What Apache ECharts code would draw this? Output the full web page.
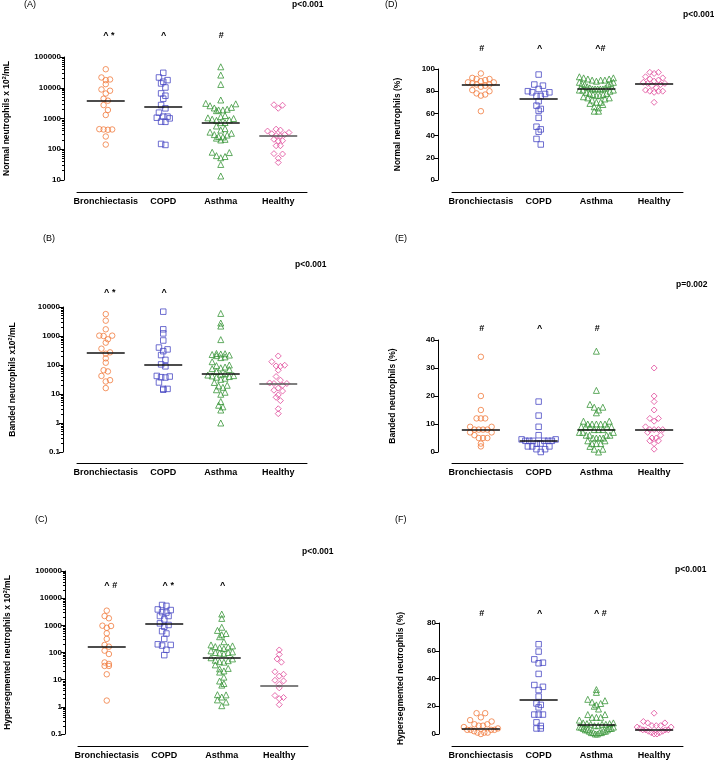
<!DOCTYPE html>
<html>
<head>
<meta charset="utf-8">
<script src="https://cdn.jsdelivr.net/npm/echarts@6/dist/echarts.min.js"></script>
<style>
html, body { margin: 0; padding: 0; background: #fff; }
#main { width: 714px; height: 762px; }
</style>
</head>
<body>
<div id="main"></div>
<script>
var groups = ['Bronchiectasis', 'COPD', 'Asthma', 'Healthy'];

// (A) normal neutrophils x 10^2/mL
var aBronch = [40000, 21600, 18600, 17700, 13100, 8800, 8000, 6500, 4400, 3800, 2740, 1890, 1300, 450, 440, 440, 430, 260, 142];
var aCopd = [30600, 21600, 17700, 15700, 13800, 10200, 6550, 5500, 4400, 2740, 2140, 1550, 1150, 1150, 1060, 1010, 790, 780, 149, 138];
var aAsthma = [48000, 25800, 12800, 4000, 3100, 3000, 2600, 2300, 2200, 2000, 1900, 1900, 1800, 1250, 1150, 1050, 1000, 950, 900, 870, 740, 730, 570, 470, 420, 360, 330, 300, 290, 260, 250, 230, 210, 200, 80, 78, 62, 58, 53, 32, 13.5];
var aHealthy = [2800, 2700, 2150, 450, 420, 390, 350, 320, 300, 280, 270, 210, 190, 185, 130, 130, 72, 70, 51, 37];
var aMedian = [3800, 2420, 740, 275];
var aMarks = ['^ *', '^', '#', ''];

// (B) banded neutrophils x10^2/mL
var bBronch = [5700, 3380, 1700, 1030, 1030, 1000, 770, 590, 365, 273, 245, 170, 120, 66, 60, 42, 30, 27, 16];
var bCopd = [6900, 1700, 1230, 700, 400, 345, 300, 220, 150, 105, 90, 42, 40, 38, 37, 25, 15, 14, 15];
var bAsthma = [6000, 2800, 2200, 750, 250, 245, 240, 230, 220, 210, 190, 180, 130, 100, 95, 85, 80, 75, 70, 60, 50, 48, 45, 43, 42, 40, 38, 35, 32, 25, 20, 19, 17, 14, 11.5, 9.8, 5.5, 4.1, 3.6, 2.8, 1.0];
var bHealthy = [205, 130, 98, 93, 90, 66, 40, 30, 24, 23, 23, 20, 16, 13.5, 12.6, 9.3, 7.7, 5.9, 3.1, 2.1];
var bMedian = [274, 103, 50, 22];
var bMarks = ['^ *', '^', '', ''];

// (C) hypersegmented neutrophils x 10^2/mL
var cBronch = [3470, 2200, 1820, 970, 945, 810, 510, 316, 190, 164, 117, 88, 43, 38, 32, 32, 15.8, 1.7];
var cCopd = [5600, 5200, 3850, 3650, 3050, 2950, 2200, 2200, 1650, 1180, 1030, 890, 610, 500, 315, 200, 190, 180, 126, 80];
var cAsthma = [2600, 1800, 850, 650, 500, 450, 380, 250, 190, 175, 165, 160, 150, 140, 115, 105, 100, 100, 95, 90, 64, 58, 52, 50, 46, 44, 35, 26, 25, 21, 19, 12.4, 8.9, 7.2, 6.3, 2.8, 2.75, 2.3, 1.8, 1.5, 1.1];
var cHealthy = [124, 85, 58, 44, 19.5, 15.8, 13.5, 9.5, 9.0, 6.7, 5.0, 2.6, 2.2, 2.0, 1.2];
var cMedian = [169, 1110, 62, 6];
var cMarks = ['^ #', '^ *', '^', ''];

// (D) normal neutrophils %
var dBronch = [96, 92, 91, 91, 90, 89, 88, 88, 87, 86, 86, 85, 84, 81, 80, 78, 77, 76, 62];
var dCopd = [95, 86, 85, 82, 80, 79, 79, 77.5, 75.7, 75.7, 71, 67, 64, 62.5, 56, 48, 45.6, 43.5, 37, 32];
var dAsthma = [93, 92, 92, 91, 91, 90, 90, 90, 89, 88, 88, 87, 87, 86, 86, 84, 83, 83, 82, 82, 82, 82, 82, 81, 81, 81, 80, 79, 78, 78, 77, 77, 76, 76, 75, 74, 74, 73, 72, 70, 70, 69, 68, 66, 65, 62, 62];
var dHealthy = [97, 97, 96, 93, 92, 91, 90, 89, 88, 87, 87, 86, 85, 83, 81, 80, 80, 80, 79, 70];
var dMedian = [86, 73, 82, 87];
var dMarks = ['#', '^', '^#', ''];

// (E) banded neutrophils %
var eBronch = [34, 20, 15, 12, 12, 12, 9, 9, 8, 8, 8, 8, 7, 7, 6, 5, 5, 5, 3, 2];
var eCopd = [18, 13, 9, 6, 4.5, 4.5, 4, 4, 4, 4, 4, 4, 3, 3, 2, 2, 2, 1, 1, 0];
var eAsthma = [36, 22, 17, 16, 16, 15, 14, 11, 11, 10, 10, 10, 10, 10, 9, 9, 9, 9, 9, 8, 8, 8, 7, 7, 7, 6, 6, 6, 6, 5, 5, 5, 5, 4, 4, 3, 3, 3, 2, 1, 1, 0];
var eHealthy = [30, 20, 18, 15, 12, 12, 11, 9, 8, 8, 8, 8, 7, 6, 5, 5, 4, 4, 3, 1];
var eMedian = [8, 3.9, 8, 8];
var eMarks = ['#', '^', '#', ''];

// (F) hypersegmented neutrophils %
var fBronch = [15, 15, 12, 10, 9, 7, 7, 6, 6, 5, 4, 3, 3, 3, 3, 2, 1, 1, 1, 0];
var fCopd = [64.7, 59.4, 53.8, 51.4, 51, 43.3, 35.3, 34, 31.7, 27, 22, 21, 19.2, 14, 14, 14, 8.4, 5.8, 4, 4];
var fAsthma = [32, 30, 25, 24, 23, 22, 21, 20, 18, 14, 14, 12, 12, 12, 10, 8, 8, 7.5, 7.5, 7, 7, 7, 6, 6, 5, 5, 5, 4, 4, 4, 3, 3, 3, 2, 2, 2, 1, 1, 1, 1, 0, 0];
var fHealthy = [15, 9, 8, 8, 6, 6, 6, 5, 5, 4, 3, 3, 3, 3, 2, 2, 1, 1, 0, 0];
var fMedian = [4, 24.5, 7, 3];
var fMarks = ['#', '^', '^ #', ''];

var colors = ['#f17c3e', '#4a4ac4', '#3a963a', '#e0489a'];
var symbols = ['circle', 'rect', 'triangle', 'diamond'];
var sizes = [5.5, 5.5, 6, 6];
var FONT = '"Liberation Sans", Arial, sans-serif';

var panels = [
  { label: '(A)', p: 'p<0.001', data: [aBronch, aCopd, aAsthma, aHealthy], med: aMedian, marks: aMarks,
    name: 'Normal neutrophils x 10{s|2}/mL', log: true, min: 10, max: 100000,
    left: 76, top: 57, width: 231, height: 123, yOff: 13, xOff: 12, gap: 52,
    lab: [24, 5], pPos: [292, 5], markY: 36 },
  { label: '(B)', p: 'p<0.001', data: [bBronch, bCopd, bAsthma, bHealthy], med: bMedian, marks: bMarks,
    name: 'Banded neutrophils x10{s|2}/mL', log: true, min: 0.1, max: 10000,
    left: 77, top: 307, width: 230, height: 145, yOff: 14, xOff: 11, gap: 45,
    lab: [43, 239], pPos: [295, 265], markY: 293 },
  { label: '(C)', p: 'p<0.001', data: [cBronch, cCopd, cAsthma, cHealthy], med: cMedian, marks: cMarks,
    name: 'Hypersegmented neutrophils x 10{s|2}/mL', log: true, min: 0.1, max: 100000,
    left: 78, top: 571, width: 230, height: 163, yOff: 13, xOff: 12, gap: 52,
    lab: [35, 520], pPos: [302, 552], markY: 586 },
  { label: '(D)', p: 'p<0.001', data: [dBronch, dCopd, dAsthma, dHealthy], med: dMedian, marks: dMarks,
    name: 'Normal neutrophils (%)', log: false, min: 0, max: 100, interval: 20,
    left: 452, top: 69, width: 231, height: 111, yOff: 14, xOff: 12, gap: 36,
    lab: [385, 5], pPos: [683, 15], markY: 49 },
  { label: '(E)', p: 'p=0.002', data: [eBronch, eCopd, eAsthma, eHealthy], med: eMedian, marks: eMarks,
    name: 'Banded neutrophils (%)', log: false, min: 0, max: 40, interval: 10,
    left: 452, top: 340, width: 231, height: 112, yOff: 14, xOff: 11, gap: 41,
    lab: [395, 239], pPos: [676, 285], markY: 329 },
  { label: '(F)', p: 'p<0.001', data: [fBronch, fCopd, fAsthma, fHealthy], med: fMedian, marks: fMarks,
    name: 'Hypersegmented neutrophils (%)', log: false, min: 0, max: 80, interval: 20,
    left: 452, top: 623, width: 231, height: 111, yOff: 13, xOff: 12, gap: 34,
    lab: [395, 520], pPos: [675, 570], markY: 614 }
];

/** Prism-like scatter: bin points by pixel height, spread each bin into a centred row */
function swarm(values, toPx, rowH, step, maxW) {
  var bins = {};
  values.forEach(function (v, i) {
    var b = Math.floor(toPx(v) / rowH);
    (bins[b] = bins[b] || []).push(i);
  });
  var offs = [];
  Object.keys(bins).forEach(function (b) {
    var idx = bins[b];
    var k = idx.length;
    var s = k > 1 ? Math.min(step, maxW / (k - 1)) : 0;
    var slots = [];
    for (var j = 0; j < k; j++) slots.push((j - (k - 1) / 2) * s);
    // outer slots get the higher values, so rows curve like in the original
    slots.sort(function (s1, s2) { return Math.abs(s2) - Math.abs(s1) || s1 - s2; });
    idx.sort(function (a, c) { return values[c] - values[a]; });
    idx.forEach(function (i, j) { offs[i] = slots[j]; });
  });
  return offs;
}

function decades(min, max) {
  var out = [];
  for (var e = Math.round(Math.log10(min)); e <= Math.round(Math.log10(max)); e++) out.push(Math.pow(10, e));
  return out;
}
function minorTicks(min, max) {
  var out = [];
  decades(min, max).forEach(function (d) {
    for (var k = 2; k <= 9; k++) if (d * k < max) out.push(d * k);
  });
  return out;
}
function fmt(v) { return String(+(+v).toPrecision(6)); }

var grid = [], xAxis = [], yAxis = [], series = [], graphic = [];

panels.forEach(function (pn, p) {
  grid.push({ left: pn.left, top: pn.top, width: pn.width, height: pn.height });
  xAxis.push({
    type: 'category', gridIndex: p, data: groups, offset: pn.xOff, position: 'bottom',
    axisLine: { onZero: false, lineStyle: { color: '#000', width: 1 } },
    axisTick: { alignWithLabel: true, length: 3, lineStyle: { color: '#000' } },
    axisLabel: { interval: 0, margin: 5, color: '#000', fontFamily: FONT, fontWeight: 'bold', fontSize: 9 },
    splitLine: { show: false }
  });
  var valIdx = xAxis.length;
  xAxis.push({ type: 'value', gridIndex: p, min: -0.5, max: 3.5, show: false });

  var yIdx = yAxis.length;
  var yMain = {
    type: pn.log ? 'log' : 'value', gridIndex: p, min: pn.min, max: pn.max, offset: pn.yOff, position: 'left',
    name: pn.name, nameLocation: 'middle', nameGap: pn.gap, nameRotate: 90,
    nameTextStyle: {
      color: '#000', fontFamily: FONT, fontWeight: 'bold', fontSize: 8.5,
      rich: { s: { fontSize: 5.5, fontWeight: 'bold', fontFamily: FONT, color: '#000', verticalAlign: 'top', padding: [0, 0, 5, 0] } }
    },
    axisLine: { show: true, onZero: false, lineStyle: { color: '#000', width: 1 } },
    axisTick: { show: true, length: 4, lineStyle: { color: '#000' } },
    axisLabel: { color: '#000', fontFamily: FONT, fontWeight: 'bold', fontSize: 8, margin: 3, formatter: fmt },
    splitLine: { show: false }
  };
  if (pn.log) {
    yMain.logBase = 10;
    yMain.axisTick.customValues = decades(pn.min, pn.max);
    yMain.axisLabel.customValues = decades(pn.min, pn.max);
  } else {
    yMain.interval = pn.interval;
  }
  yAxis.push(yMain);
  if (pn.log) {
    yAxis.push({
      type: 'log', logBase: 10, gridIndex: p, min: pn.min, max: pn.max, offset: pn.yOff, position: 'left',
      axisLine: { show: false, onZero: false }, axisLabel: { show: false }, splitLine: { show: false },
      axisTick: { show: true, length: 2, customValues: minorTicks(pn.min, pn.max), lineStyle: { color: '#000' } }
    });
  }

  var lmin = pn.log ? Math.log10(pn.min) : pn.min;
  var lmax = pn.log ? Math.log10(pn.max) : pn.max;
  var toPx = function (v) {
    var t = pn.log ? Math.log10(v) : v;
    return (t - lmin) / (lmax - lmin) * pn.height;
  };
  var unit = pn.width / 4;

  pn.data.forEach(function (vals, g) {
    var offs = swarm(vals, toPx, 7, 4.3, 34);
    var pts = vals.map(function (v, i) { return [g + offs[i] / unit, v]; });
    var medColor = (pn.log && g === 3) ? '#555' : '#111';
    series.push({
      type: 'scatter', xAxisIndex: valIdx, yAxisIndex: yIdx,
      symbol: symbols[g], symbolSize: sizes[g], data: pts, silent: true,
      itemStyle: { color: 'rgba(255,255,255,0)', borderColor: colors[g], borderWidth: 1 },
      markLine: {
        silent: true, symbol: ['none', 'none'], label: { show: false }, animation: false,
        lineStyle: { color: medColor, width: 1.6, type: 'solid' },
        data: [[{ coord: [g - 0.33, pn.med[g]] }, { coord: [g + 0.33, pn.med[g]] }]]
      }
    });
    if (pn.marks[g]) {
      graphic.push({
        type: 'text',
        x: pn.left + (g + 0.5) * unit + (pn.marks[g].length > 1 ? 4 : 1), y: pn.markY,
        style: { text: pn.marks[g], fill: '#000', font: 'bold 9px ' + FONT, align: 'center', verticalAlign: 'middle' }
      });
    }
  });

  graphic.push({
    type: 'text', x: pn.lab[0], y: pn.lab[1],
    style: { text: pn.label, fill: '#000', font: '9px ' + FONT, align: 'left', verticalAlign: 'middle' }
  });
  graphic.push({
    type: 'text', x: pn.pPos[0], y: pn.pPos[1],
    style: { text: pn.p, fill: '#000', font: 'bold 8.5px ' + FONT, align: 'left', verticalAlign: 'middle' }
  });
});

var chart = echarts.init(document.getElementById('main'), null, { renderer: 'canvas' });
chart.setOption({
  animation: false,
  backgroundColor: '#fff',
  grid: grid,
  xAxis: xAxis,
  yAxis: yAxis,
  series: series,
  graphic: graphic
});
</script>
</body>
</html>
